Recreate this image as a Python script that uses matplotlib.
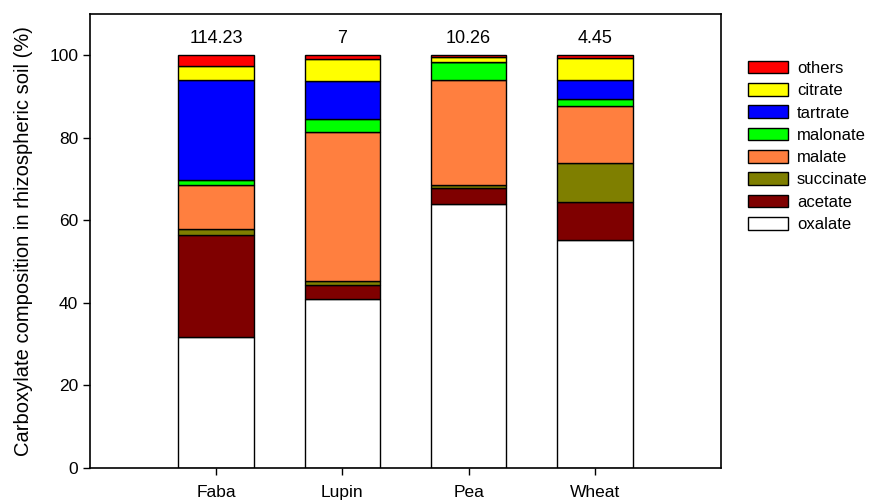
import matplotlib
matplotlib.use("Agg")
import matplotlib.pyplot as plt
import numpy as np

plt.rcParams['font.family'] = ['Liberation Sans', 'DejaVu Sans']

crops = ["Faba", "Lupin", "Pea", "Wheat"]
totals = ["114.23", "7", "10.26", "4.45"]

components = ["oxalate", "acetate", "succinate", "malate", "malonate", "tartrate", "citrate", "others"]
oxalate = [31.7, 40.9, 63.9, 55.3]
acetate = [24.8, 3.5, 4.0, 9.1]
succinate = [1.4, 0.9, 0.7, 9.5]
malate = [10.7, 36.2, 25.5, 13.7]
malonate = [1.2, 3.1, 4.2, 1.8]
tartrate = [24.1, 9.2, 0.0, 4.7]
citrate = [3.4, 5.3, 1.2, 5.2]
others = [2.7, 0.9, 0.5, 0.7]

series = [oxalate, acetate, succinate, malate, malonate, tartrate, citrate, others]
colors = ["#FFFFFF", "#7F0000", "#7F7F00", "#FF7F3F", "#00FF00", "#0000FF", "#FFFF00", "#FF0000"]

fig = plt.figure(figsize=(8.73, 5.03), dpi=100)
ax = fig.add_axes([90/873, 35/503, (721-90)/873, (468-14)/503])

x = np.arange(len(crops))
bottom = np.zeros(len(crops))
handles = []
for name, vals, c in zip(components, series, colors):
    v = np.array(vals, dtype=float)
    b = ax.bar(x, v, width=0.6, bottom=bottom, color=c, edgecolor="black", linewidth=1.0, label=name)
    handles.append(b)
    bottom += v

for xi, t in zip(x, totals):
    ax.text(xi, 104, t, ha="center", va="center", fontsize=13)

ax.set_xlim(-1, 4)
ax.set_ylim(0, 110)
ax.set_yticks([0, 20, 40, 60, 80, 100])
ax.set_xticks(x)
ax.set_xticklabels(crops)
ax.tick_params(axis="both", direction="out", length=5, width=1, labelsize=12.5)
ax.tick_params(axis="x", pad=7)
for s in ax.spines.values():
    s.set_linewidth(1.2)
ax.set_ylabel("Carboxylate composition in rhizospheric soil (%)", fontsize=14.5, labelpad=12)

leg = fig.legend(handles[::-1], components[::-1], loc="upper left",
                 bbox_to_anchor=(741/873, 1 - 54/503), frameon=False,
                 fontsize=12, handlelength=2.4, handleheight=0.8,
                 labelspacing=0.43, handletextpad=0.55, borderaxespad=0)

fig.savefig("out.png", dpi=100)
